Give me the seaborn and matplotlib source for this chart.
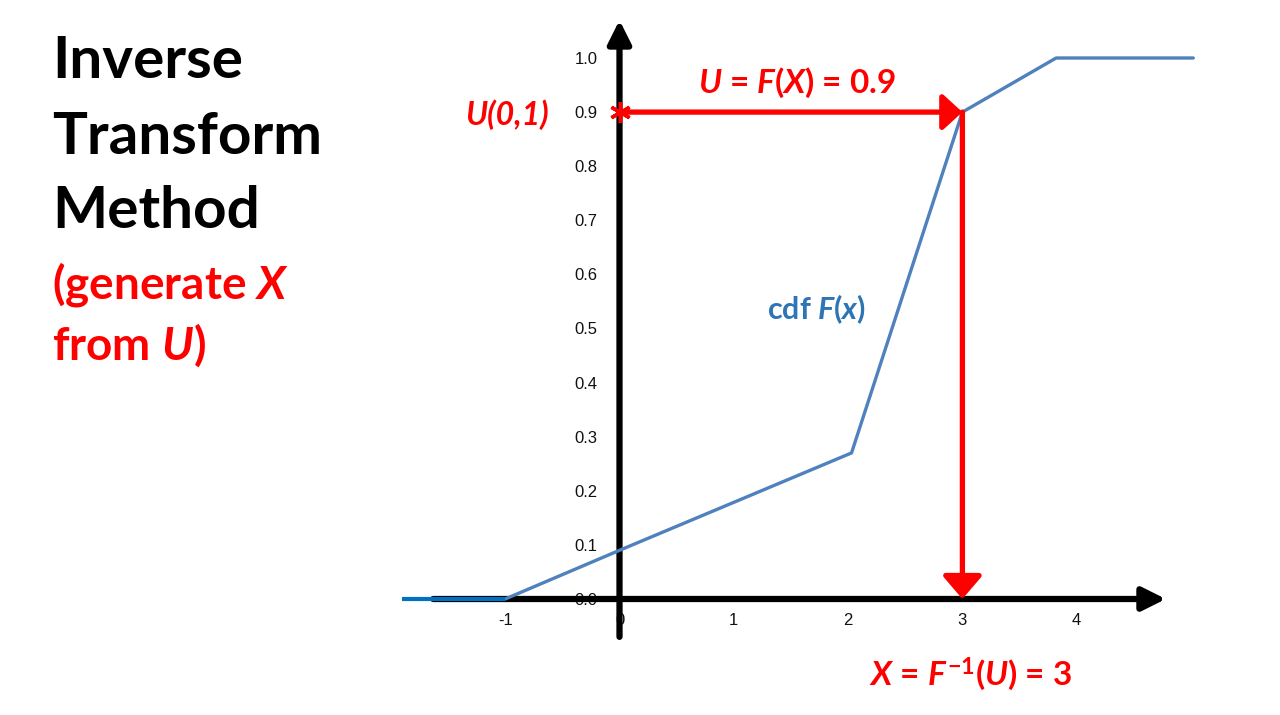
import matplotlib
matplotlib.use("Agg")
import matplotlib.pyplot as plt
import seaborn as sns
import pandas as pd

sns.set_style("white")
plt.rcParams['font.family'] = ['Lato', 'DejaVu Sans']
plt.rcParams['text.color'] = 'black'
plt.rcParams['mathtext.fontset'] = 'custom'
plt.rcParams['mathtext.it'] = 'Lato:italic:bold'
plt.rcParams['mathtext.rm'] = 'Lato:bold'
plt.rcParams['mathtext.bf'] = 'Lato:bold'

# piecewise linear cdf F(x)
cdf_x = [-1.0, 0.0, 2.03, 3.0, 3.82, 5.02]
cdf_y = [0.0, 0.09, 0.27, 0.9, 1.0, 1.0]
# flat part left of -1
left_x = [-1.9, -1.0]
left_y = [0.0, 0.0]

x_ticks = [-1, 0, 1, 2, 3, 4]
y_ticks = [0.0, 0.1, 0.2, 0.3, 0.4, 0.5, 0.6, 0.7, 0.8, 0.9, 1.0]
u_value = 0.9
x_value = 3

RED = "#FF0000"
BLUE = "#4F81BD"

fig = plt.figure(figsize=(12.8, 7.15), dpi=100)
ax = fig.add_axes([0, 0, 1, 1])
ax.set_xlim(-619.5 / 114.3, (1280 - 619.5) / 114.3)
ax.set_ylim((599 - 715) / 541, 599 / 541)

# axes drawn as arrows
ax.annotate("", xy=(4.78, 0), xytext=(-1.63, 0),
            arrowprops=dict(arrowstyle="-|>,head_length=14,head_width=7", mutation_scale=1,
                            lw=4.5, color="black", shrinkA=0, shrinkB=0), zorder=2)
ax.annotate("", xy=(0, 1.07), xytext=(0, -0.07),
            arrowprops=dict(arrowstyle="-|>,head_length=14,head_width=7", mutation_scale=1,
                            lw=4.5, color="black", shrinkA=0, shrinkB=0), zorder=2)

# cdf line
df = pd.DataFrame({"x": cdf_x, "F": cdf_y})
sns.lineplot(data=df, x="x", y="F", ax=ax, color=BLUE, lw=2.4, sort=False, zorder=4)
ax.plot(left_x, left_y, color="#0070C0", lw=3, zorder=4, solid_capstyle="butt")

# ticks via moved spines
for s in ax.spines.values():
    s.set_color("none")
ax.spines['left'].set_position(('data', 0))
ax.spines['bottom'].set_position(('data', 0))
ax.set_xticks(x_ticks)
ax.set_xticklabels([str(t) for t in x_ticks], family="Liberation Sans")
ax.set_yticks(y_ticks)
ax.set_yticklabels([f"{t:.1f}" for t in y_ticks], family="Liberation Sans")
ax.tick_params(axis="x", length=0, pad=10, labelsize=12, colors="#111111")
ax.tick_params(axis="y", length=0, pad=16, labelsize=12, colors="#111111")
ax.set_xlabel("")
ax.set_ylabel("")
ax.grid(False)

# red arrows: U -> F^-1(U)
ax.annotate("", xy=(x_value, u_value), xytext=(0, u_value),
            arrowprops=dict(arrowstyle="-|>,head_length=12,head_width=11", mutation_scale=1,
                            lw=3.8, color=RED, shrinkA=0, shrinkB=0), zorder=5)
ax.annotate("", xy=(x_value, 0), xytext=(x_value, u_value),
            arrowprops=dict(arrowstyle="-|>,head_length=14,head_width=12", mutation_scale=1,
                            lw=3.8, color=RED, shrinkA=0, shrinkB=0), zorder=5)
ax.plot([0], [u_value], marker=(6, 2, 0), color=RED, ms=15, mew=2.5, zorder=6)

# labels inside the plot
ax.text(1.55, 0.955, "$U$ = $F$($X$) = 0.9", color=RED, fontsize=24, fontweight="bold",
        ha="center", va="center")
ax.text(-0.62, 0.895, "U(0,1)", color=RED, fontsize=23, fontstyle="italic", fontweight="bold",
        ha="right", va="center")
ax.text(1.72, 0.535, "cdf $F$($x$)", color="#2E75B6", fontsize=22, fontweight="bold",
        ha="center", va="center")
ax.text(3.07, -0.14, "$X$ = $F^{-1}$($U$) = 3", color=RED, fontsize=24, fontweight="bold",
        ha="center", va="center")

# title block on the left
fig.text(52 / 1280, 1 - 62 / 715, "Inverse", fontsize=42, fontweight="bold", va="center")
fig.text(52 / 1280, 1 - 138 / 715, "Transform", fontsize=42, fontweight="bold", va="center")
fig.text(52 / 1280, 1 - 212 / 715, "Method", fontsize=42, fontweight="bold", va="center")
fig.text(52 / 1280, 1 - 285 / 715, "(generate $X$", fontsize=33, fontweight="bold",
         color=RED, va="center")
fig.text(52 / 1280, 1 - 345 / 715, "from $U$)", fontsize=33, fontweight="bold",
         color=RED, va="center")

fig.savefig("out.png", dpi=100, facecolor="white")
